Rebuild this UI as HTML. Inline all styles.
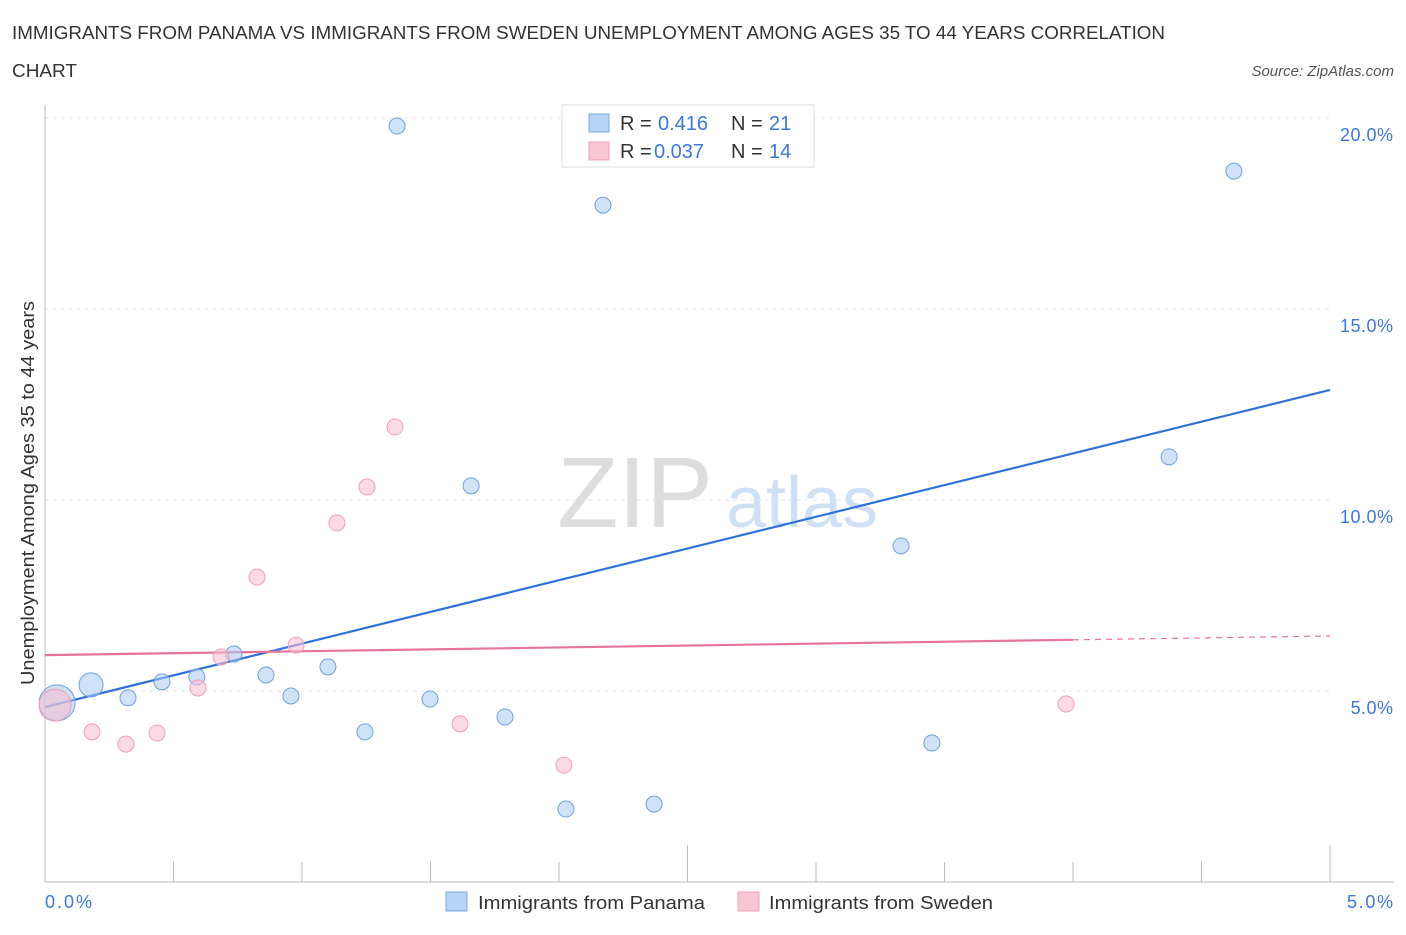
<!DOCTYPE html>
<html><head><meta charset="utf-8"><style>
body{margin:0;background:#fff;font-family:"Liberation Sans",sans-serif;}
svg text{font-family:"Liberation Sans",sans-serif;}
</style></head><body>
<svg id="chart" width="1406" height="930">
<text x="12" y="39" font-size="18" fill="#333" textLength="1153" lengthAdjust="spacingAndGlyphs">IMMIGRANTS FROM PANAMA VS IMMIGRANTS FROM SWEDEN UNEMPLOYMENT AMONG AGES 35 TO 44 YEARS CORRELATION</text>
<text x="12" y="77" font-size="18" fill="#333" textLength="65" lengthAdjust="spacingAndGlyphs">CHART</text>
<text x="1394" y="76" font-size="15" fill="#555" font-style="italic" text-anchor="end">Source: ZipAtlas.com</text>
<text x="635" y="527" font-size="100" fill="#ddd" font-family="Liberation Serif" text-anchor="middle">ZIP</text>
<text x="802" y="527" font-size="72" fill="#cfe0f5" text-anchor="middle">atlas</text>
<g id="grid"></g><g id="ticks"></g><g id="lines"></g><g id="points"></g>
<text x="34" y="493" font-size="18" fill="#333" text-anchor="middle" textLength="384" lengthAdjust="spacingAndGlyphs" transform="rotate(-90 34 493)">Unemployment Among Ages 35 to 44 years</text>
<text x="45" y="908" font-size="18" fill="#3b78d8" textLength="47">0.0%</text>
<text x="1393" y="908" font-size="18" fill="#3b78d8" text-anchor="end" textLength="46">5.0%</text>
<g>
<rect x="562" y="105" width="252" height="62" fill="#fff" stroke="#ddd"/>
<rect x="589" y="114" width="20" height="18" fill="#b8d3f5" stroke="#7aa9e0"/>
<rect x="589" y="142" width="20" height="18" fill="#f9c6d6" stroke="#f0a0b8"/>
<text x="620" y="130" font-size="20" fill="#333">R = </text><text x="658" y="130" font-size="20" fill="#3b78d8">0.416</text>
<text x="731" y="130" font-size="20" fill="#333">N = </text><text x="769" y="130" font-size="20" fill="#3b78d8">21</text>
<text x="620" y="158" font-size="20" fill="#333">R = </text><text x="654" y="158" font-size="20" fill="#3b78d8">0.037</text>
<text x="731" y="158" font-size="20" fill="#333">N = </text><text x="769" y="158" font-size="20" fill="#3b78d8">14</text>
</g>
<g>
<rect x="446" y="892" width="21" height="19" fill="#b8d3f5" stroke="#7aa9e0"/>
<text x="478" y="909" font-size="18" fill="#333" textLength="227" lengthAdjust="spacingAndGlyphs">Immigrants from Panama</text>
<rect x="738" y="892" width="21" height="19" fill="#f9c6d6" stroke="#f0a0b8"/>
<text x="769" y="909" font-size="18" fill="#333" textLength="224" lengthAdjust="spacingAndGlyphs">Immigrants from Sweden</text>
</g>
</svg>
<script>
const yTicks=[5,10,15,20];
const yTickLabels=["5.0%","10.0%","15.0%","20.0%"];
const xTicks=[0,0.5,1,1.5,2,2.5,3,3.5,4,4.5,5];
const panamaX=[0.047,0.179,0.323,0.455,0.591,0.735,0.860,0.957,1.101,1.245,1.370,1.498,1.658,1.790,2.027,2.171,2.370,3.331,3.451,4.374,4.626];
const panamaY=[4.69,5.16,4.82,5.24,5.37,5.97,5.42,4.87,5.63,3.93,19.79,4.79,10.37,4.32,1.91,17.72,2.04,8.80,3.64,11.13,18.61];
const panamaR=[18,12,8,8,8,8,8,8,8,8,8,8,8,8,8,8,8,8,8,8,8];
const swedenX=[0.039,0.183,0.315,0.436,0.595,0.685,0.825,0.977,1.136,1.253,1.362,1.615,2.019,3.973];
const swedenY=[4.63,3.93,3.61,3.90,5.08,5.89,7.98,6.20,9.40,10.34,11.91,4.14,3.06,4.66];
const swedenR=[16,8,8,8,8,8,8,8,8,8,8,8,8,8];
const panamaTrend=[4.58,12.88];
const swedenTrend=[5.94,6.44];
const NS="http://www.w3.org/2000/svg";
const X=v=>45+v/5*1285, Y=v=>882-v*38.2;
function mk(t,a,p){const e=document.createElementNS(NS,t);for(const k in a)e.setAttribute(k,a[k]);document.getElementById(p).appendChild(e);return e;}
yTicks.forEach((t,i)=>{
 const l=mk('line',{x1:45,x2:1330,y1:Y(t),y2:Y(t),stroke:'#e3e3e3','stroke-dasharray':'4,4'},'grid');
 
 
 const tx=mk('text',{x:1393,y:Y(t)+23,'font-size':18,fill:'#3b78d8','text-anchor':'end',textLength:yTickLabels[i].length*10.6},'grid');
 tx.textContent=yTickLabels[i];
 
 
});
const ax=mk('line',{x1:45,x2:45,y1:105,y2:882,stroke:'#bbb'},'ticks');


const bx=mk('line',{x1:45,x2:1394,y1:882,y2:882,stroke:'#bbb'},'ticks');


xTicks.forEach((t,i)=>{
 const long=(i===5||i===10);
 const l=mk('line',{x1:X(t),x2:X(t),y1:long?845:862,y2:882,stroke:'#bbb'},'ticks');
 
 
});
const bl=mk('line',{x1:X(0),y1:Y(panamaTrend[0]),x2:X(5),y2:Y(panamaTrend[1]),stroke:'#2f72d8','stroke-width':2.2},'lines');


const sm=swedenTrend[0]+(swedenTrend[1]-swedenTrend[0])*0.8;
const pl=mk('line',{x1:X(0),y1:Y(swedenTrend[0]),x2:X(4),y2:Y(sm),stroke:'#e8739a','stroke-width':2.2},'lines');


const pd=mk('line',{x1:X(4),y1:Y(sm),x2:X(5),y2:Y(swedenTrend[1]),stroke:'#e8739a','stroke-width':1.2,'stroke-dasharray':'6,5'},'lines');


panamaX.forEach((x,i)=>{
 const c=mk('circle',{cx:X(x),cy:Y(panamaY[i]),r:panamaR[i],fill:'rgba(170,203,243,0.55)',stroke:'#6fa0dd','stroke-width':1},'points');
 
 
});
swedenX.forEach((x,i)=>{
 const c=mk('circle',{cx:X(x),cy:Y(swedenY[i]),r:swedenR[i],fill:'rgba(248,187,208,0.55)',stroke:'#eea0b8','stroke-width':1},'points');
 
 
});
</script>
</body></html>
